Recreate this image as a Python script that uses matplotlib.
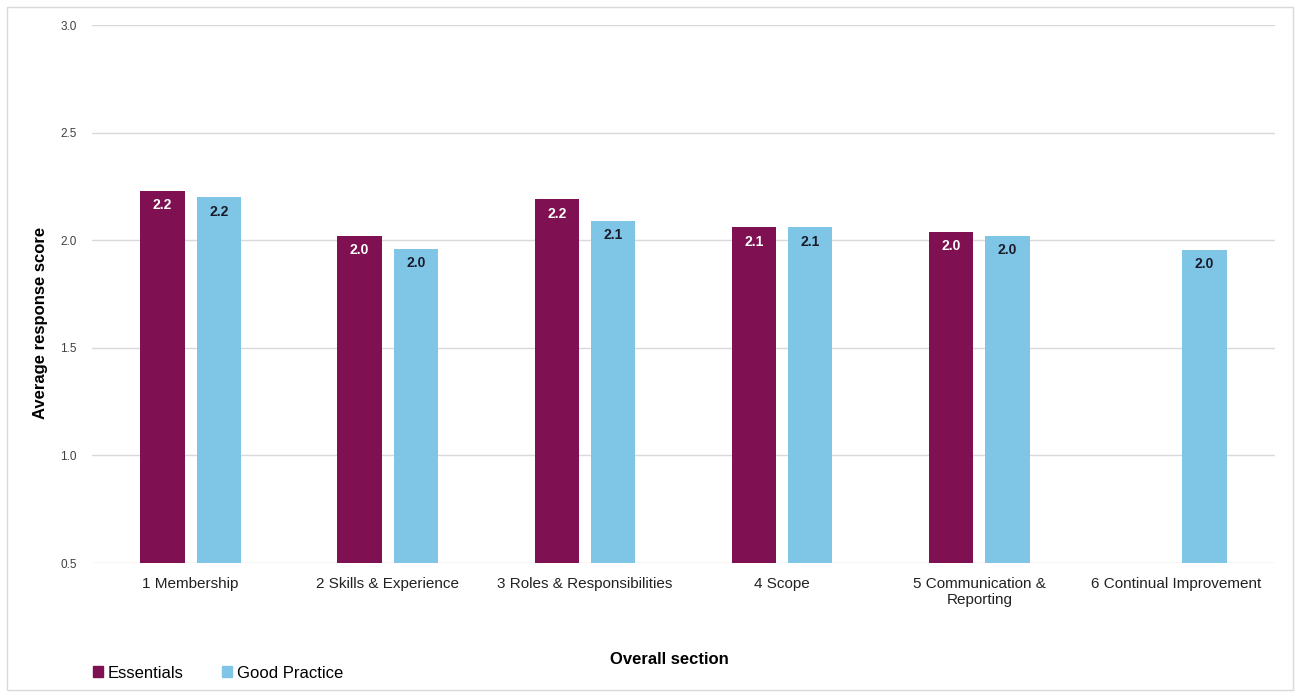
import matplotlib.pyplot as plt
import numpy as np
from matplotlib.patches import Rectangle

plt.rcParams['font.family'] = ['Liberation Sans', 'DejaVu Sans']

sections = ['1 Membership', '2 Skills & Experience', '3 Roles & Responsibilities',
            '4 Scope', '5 Communication &\nReporting', '6 Continual Improvement']
essentials = [2.23, 2.02, 2.19, 2.06, 2.04, None]
good_practice = [2.20, 1.96, 2.09, 2.06, 2.02, 1.955]

col_ess = '#7f1152'
col_gp = '#7fc6e6'

fig = plt.figure(figsize=(13.01, 6.97), dpi=100)
ax = fig.add_axes([92 / 1301, 1 - 563 / 697, (1275 - 92) / 1301, (563 - 25) / 697])

x = np.arange(len(sections))
w = 0.225
off = 0.143
base = 0.5

for i, v in enumerate(essentials):
    if v is None:
        continue
    ax.bar(x[i] - off, v - base, w, bottom=base, color=col_ess, zorder=3)
    ax.text(x[i] - off, v - 0.035, f'{v:.1f}', ha='center', va='top',
            color='white', fontsize=10, fontweight='bold', zorder=4)
for i, v in enumerate(good_practice):
    ax.bar(x[i] + off, v - base, w, bottom=base, color=col_gp, zorder=3)
    ax.text(x[i] + off, v - 0.035, f'{v:.1f}', ha='center', va='top',
            color='#1a1a2a', fontsize=10, fontweight='bold', zorder=4)

ax.set_ylim(0.5, 3.0)
ax.set_xlim(-0.5, len(sections) - 0.5)
ax.set_yticks([0.5, 1.0, 1.5, 2.0, 2.5, 3.0])
ax.set_yticklabels([f'{t:.1f}' for t in [0.5, 1.0, 1.5, 2.0, 2.5, 3.0]])
ax.yaxis.grid(True, color='#d9d9d9', linewidth=1, zorder=0)
ax.set_axisbelow(True)
for s in ax.spines.values():
    s.set_visible(False)
ax.tick_params(axis='y', length=0, labelsize=8.5, colors='#404040', pad=11)
ax.tick_params(axis='x', length=0, labelsize=11, colors='#222222', pad=10)
ax.set_xticks(x)
ax.set_xticklabels(sections)

ax.set_ylabel('Average response score', fontsize=12, fontweight='bold')
ax.yaxis.set_label_coords((48 - 92) / 1183, (563 - 323) / 538)
fig.text(669 / 1301, 1 - 660 / 697, 'Overall section', ha='center', va='center',
         fontsize=12, fontweight='bold')

handles = [Rectangle((0, 0), 1, 1, color=col_ess), Rectangle((0, 0), 1, 1, color=col_gp)]
fig.legend(handles, ['Essentials', 'Good Practice'], loc='center left',
           bbox_to_anchor=(78 / 1301, 1 - 673 / 697), ncol=2, frameon=False,
           fontsize=12, handlelength=0.6, handleheight=0.6, handletextpad=0.3,
           columnspacing=2.3)

fig.patches.append(Rectangle((7 / 1301, 7 / 697), (1293 - 7) / 1301, (690 - 7) / 697,
                             transform=fig.transFigure, fill=False,
                             edgecolor='#d9d9d9', linewidth=1))

fig.savefig('out.png', dpi=100)
